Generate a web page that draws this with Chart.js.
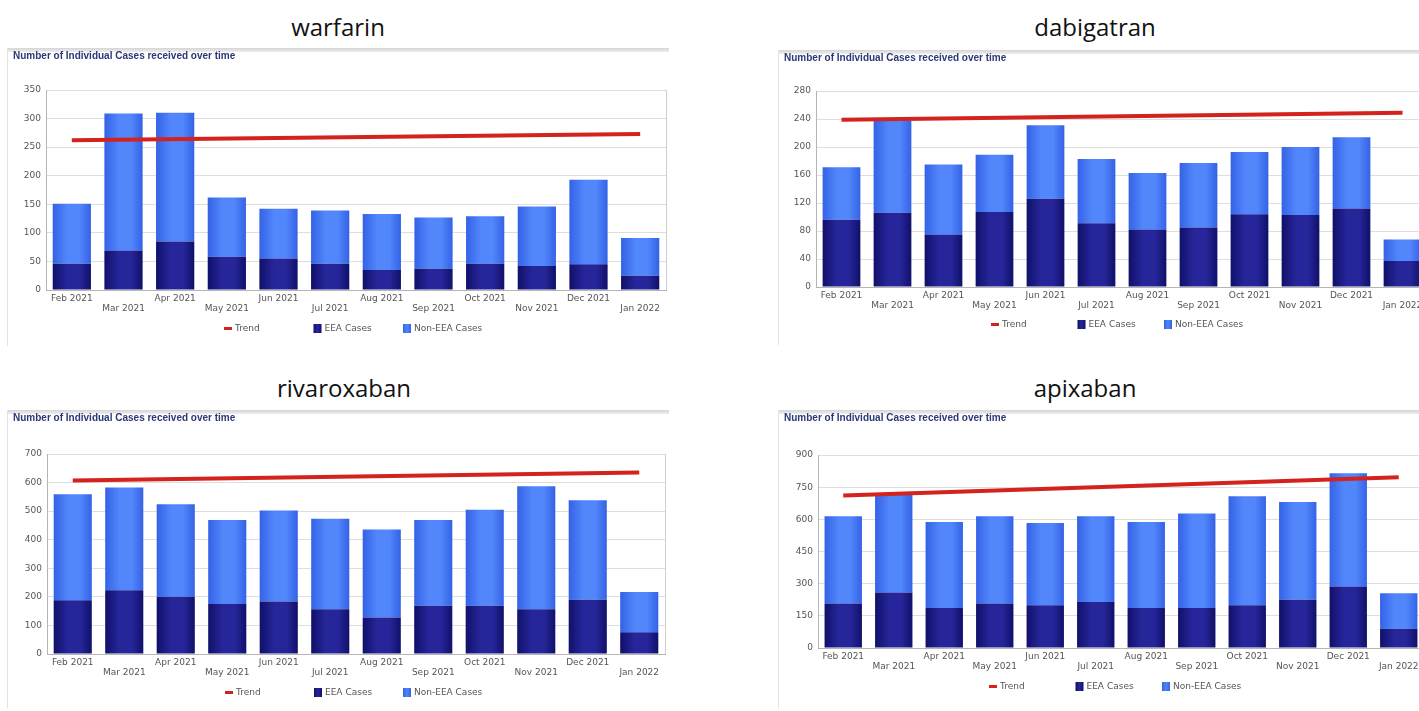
<!DOCTYPE html>
<html>
<head>
<meta charset="utf-8">
<script src="https://cdn.jsdelivr.net/npm/chart.js@4.4.1/dist/chart.umd.min.js"></script>
<style>
  html, body { margin: 0; padding: 0; background: #fff; }
  body { width: 1419px; height: 711px; overflow: hidden; position: relative; }
  .drug {
    position: absolute; transform: translateX(-50%);
    font-family: "Open Sans", sans-serif; font-size: 24px; color: #111;
    line-height: 30px; white-space: nowrap;
  }
  .panel { position: absolute; background: #fff; border-left: 1px solid #e2e2e2; }
  .panel::before {
    content: ""; position: absolute; left: 0; right: 0; top: 0; height: 4px;
    background: linear-gradient(#d4d4d4, #eeeeee);
  }
  .panel canvas { position: absolute; left: 0; top: 0; }
</style>
</head>
<body>
<div class="drug" style="left:338px;top:12px">warfarin</div>
<div class="drug" style="left:1095px;top:12px">dabigatran</div>
<div class="drug" style="left:344px;top:373px">rivaroxaban</div>
<div class="drug" style="left:1085px;top:373px">apixaban</div>

<div class="panel" id="p-warfarin" style="left:7px;top:48px;width:661px;height:298px"><canvas id="c-warfarin"></canvas></div>
<div class="panel" id="p-dabigatran" style="left:778px;top:50px;width:660px;height:295px"><canvas id="c-dabigatran"></canvas></div>
<div class="panel" id="p-rivaroxaban" style="left:7px;top:410px;width:661px;height:298px"><canvas id="c-rivaroxaban"></canvas></div>
<div class="panel" id="p-apixaban" style="left:778px;top:410px;width:660px;height:298px"><canvas id="c-apixaban"></canvas></div>

<script>
// Monthly reporting periods shown on every chart
const months = ['Feb 2021', 'Mar 2021', 'Apr 2021', 'May 2021', 'Jun 2021', 'Jul 2021',
                'Aug 2021', 'Sep 2021', 'Oct 2021', 'Nov 2021', 'Dec 2021', 'Jan 2022'];

const subtitle = 'Number of Individual Cases received over time';
const legendNames = ['Trend', 'EEA Cases', 'Non-EEA Cases'];

// warfarin
const warfarinEEA    = [46, 69, 85, 58, 55, 46, 35, 37, 46, 42, 45, 25];
const warfarinNonEEA = [105, 240, 225, 104, 87, 93, 98, 90, 83, 104, 148, 66];
const warfarinTrend  = [262, null, null, null, null, null, null, null, null, null, null, 273];
const warfarinTicks  = { max: 350, step: 50 };

// dabigatran
const dabigatranEEA    = [96, 106, 75, 107, 126, 91, 82, 85, 104, 103, 112, 37];
const dabigatranNonEEA = [75, 132, 100, 82, 105, 92, 81, 92, 89, 97, 102, 31];
const dabigatranTrend  = [239, null, null, null, null, null, null, null, null, null, null, 249];
const dabigatranTicks  = { max: 280, step: 40 };

// rivaroxaban
const rivaroxabanEEA    = [188, 223, 200, 175, 184, 157, 128, 169, 169, 157, 190, 76];
const rivaroxabanNonEEA = [371, 360, 324, 294, 318, 316, 308, 300, 336, 430, 348, 141];
const rivaroxabanTrend  = [607, null, null, null, null, null, null, null, null, null, null, 635];
const rivaroxabanTicks  = { max: 700, step: 100 };

// apixaban
const apixabanEEA    = [208, 259, 187, 208, 199, 214, 187, 187, 199, 225, 287, 90];
const apixabanNonEEA = [406, 455, 401, 406, 384, 400, 401, 440, 509, 456, 528, 165];
const apixabanTrend  = [711, null, null, null, null, null, null, null, null, null, null, 796];
const apixabanTicks  = { max: 900, step: 150 };

// Colours
const TREND_RED = '#d3231c';
const EEA_DARK = '#10106a', EEA_LIGHT = '#26269a';
const NON_DARK = '#3462e6', NON_LIGHT = '#5286fb';

const FONT = '"DejaVu Sans", sans-serif';
const BAR_PCT = 0.74;

// Cylinder-like horizontal shading for each bar
function shadedFill(dark, light) {
  return (ctx) => {
    const chart = ctx.chart;
    const area = chart.chartArea;
    if (!area || ctx.type !== 'data' || !chart.scales.x) return light;
    const x = chart.scales.x.getPixelForValue(ctx.dataIndex);
    const half = (area.width / months.length) * BAR_PCT / 2;
    const g = chart.ctx.createLinearGradient(x - half, 0, x + half, 0);
    g.addColorStop(0, dark);
    g.addColorStop(0.38, light);
    g.addColorStop(0.7, light);
    g.addColorStop(1, dark);
    return g;
  };
}

// Subtitle, plot frame and legend drawn on the canvas
const framePlugin = {
  id: 'frame',
  beforeDatasetsDraw(chart) {
    const { ctx, chartArea: a } = chart;
    ctx.save();
    ctx.strokeStyle = '#cfcfcf';
    ctx.lineWidth = 1;
    ctx.beginPath();
    ctx.moveTo(Math.round(a.right) + 0.5, a.top);
    ctx.lineTo(Math.round(a.right) + 0.5, a.bottom);
    ctx.stroke();
    ctx.restore();
  },
  afterDraw(chart, args, opts) {
    const { ctx, chartArea: a } = chart;
    ctx.save();
    ctx.font = 'bold 10px "Liberation Sans", sans-serif';
    ctx.fillStyle = '#2b3877';
    ctx.textBaseline = 'middle';
    ctx.fillText(subtitle, 5, 8);

    // legend row
    const y = a.bottom + opts.legendDy;
    ctx.font = '9px ' + FONT;
    ctx.fillStyle = '#555';
    const ds = chart.data.datasets;
    ds.forEach((d, i) => {
      const x = opts.legendX + i * opts.legendGap;
      if (d.type === 'line') {
        ctx.fillStyle = TREND_RED;
        ctx.fillRect(x, y - 1, 8, 3);
      } else {
        const g = ctx.createLinearGradient(x, 0, x + 8, 0);
        g.addColorStop(0, d.legendDark);
        g.addColorStop(0.5, d.legendLight);
        g.addColorStop(1, d.legendDark);
        ctx.fillStyle = g;
        ctx.fillRect(x, y - 4, 8, 9);
      }
      ctx.fillStyle = '#555';
      ctx.fillText(d.label, x + 11, y + 1);
    });
    ctx.restore();
  }
};

function makeChart(id, eea, nonEea, trend, ticks, geo) {
  const panel = document.getElementById('p-' + id);
  const W = panel.clientWidth, H = panel.clientHeight;
  const canvas = document.getElementById('c-' + id);
  canvas.width = W; canvas.height = H;
  canvas.style.width = W + 'px'; canvas.style.height = H + 'px';

  return new Chart(canvas, {
    type: 'bar',
    data: {
      labels: months,
      datasets: [
        {
          type: 'line', label: legendNames[0], data: trend, stack: 'trend', order: 0,
          borderColor: TREND_RED, borderWidth: 4, pointRadius: 0, spanGaps: true,
          tension: 0, borderCapStyle: 'butt'
        },
        {
          label: legendNames[1], data: eea, stack: 'cases', order: 1,
          backgroundColor: shadedFill(EEA_DARK, EEA_LIGHT),
          legendDark: EEA_DARK, legendLight: EEA_LIGHT,
          barPercentage: BAR_PCT, categoryPercentage: 1
        },
        {
          label: legendNames[2], data: nonEea, stack: 'cases', order: 1,
          backgroundColor: shadedFill(NON_DARK, NON_LIGHT),
          legendDark: NON_DARK, legendLight: NON_LIGHT,
          barPercentage: BAR_PCT, categoryPercentage: 1
        }
      ]
    },
    options: {
      responsive: false,
      animation: false,
      devicePixelRatio: 1,
      layout: { padding: { left: 0, top: geo.top, right: geo.right, bottom: 0 } },
      plugins: {
        legend: { display: false },
        tooltip: { enabled: false },
        frame: { legendX: geo.legendX, legendGap: geo.legendGap, legendDy: geo.legendDy }
      },
      scales: {
        x: {
          stacked: true,
          grid: { display: false, drawTicks: false },
          border: { display: true, color: '#b5b5b5' },
          ticks: {
            autoSkip: false, maxRotation: 0, minRotation: 0, padding: 3,
            color: '#555', font: { family: FONT, size: 9, lineHeight: 1.15 },
            callback(value, index) {
              const t = this.getLabelForValue(value);
              return index % 2 ? ['', t] : t;
            }
          },
          afterFit(s) { s.height = geo.xh; }
        },
        y: {
          stacked: true, min: 0, max: ticks.max,
          grid: { color: '#dedede', drawTicks: false },
          border: { display: true, color: '#b5b5b5' },
          ticks: {
            stepSize: ticks.step, padding: 5, color: '#555',
            font: { family: FONT, size: 9 }
          },
          afterFit(s) { s.width = geo.yw; }
        }
      }
    },
    plugins: [framePlugin]
  });
}

// Panel geometry: y-axis width, plot top, right padding, x-axis band height, legend placement
makeChart('warfarin', warfarinEEA, warfarinNonEEA, warfarinTrend, warfarinTicks,
  { yw: 38, top: 42, right: 3, xh: 56, legendX: 216, legendGap: 89.5, legendDy: 38 });
makeChart('dabigatran', dabigatranEEA, dabigatranNonEEA, dabigatranTrend, dabigatranTicks,
  { yw: 37, top: 41, right: 11, xh: 58, legendX: 212, legendGap: 86.5, legendDy: 37 });
makeChart('rivaroxaban', rivaroxabanEEA, rivaroxabanNonEEA, rivaroxabanTrend, rivaroxabanTicks,
  { yw: 39, top: 44, right: 4, xh: 54, legendX: 217, legendGap: 89, legendDy: 38 });
makeChart('apixaban', apixabanEEA, apixabanNonEEA, apixabanTrend, apixabanTicks,
  { yw: 39, top: 45, right: 15, xh: 60, legendX: 210, legendGap: 86.5, legendDy: 38 });
</script>
</body>
</html>
